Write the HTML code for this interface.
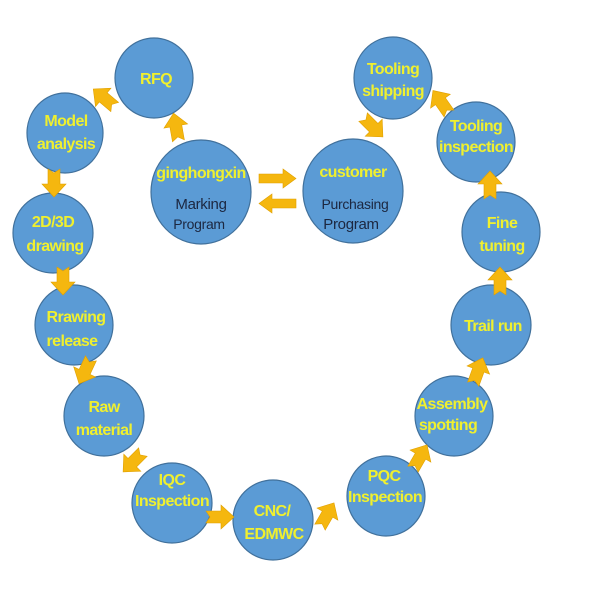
<!DOCTYPE html>
<html><head><meta charset="utf-8"><style>
html,body{margin:0;padding:0;background:#fff;}
svg{display:block;}
.t{font-family:"Liberation Sans",sans-serif;font-weight:bold;font-size:16px;letter-spacing:-0.6px;fill:#F0F02E;text-anchor:middle;}
.d{font-family:"Liberation Sans",sans-serif;font-size:14px;letter-spacing:-0.3px;fill:#1c2740;text-anchor:middle;}
</style></head><body>
<svg width="600" height="600" viewBox="0 0 600 600" xmlns="http://www.w3.org/2000/svg">
<defs>
<polygon id="ar" points="-14,-6 1,-6 1,-12 14,0 1,12 1,6 -14,6 -10,0" fill="#F5B70F" stroke="#E0A000" stroke-width="0.6"/>
</defs>
<g fill="#5B9BD5" stroke="#41719C" stroke-width="1.2">
<ellipse cx="154" cy="78" rx="39" ry="40"/>
<ellipse cx="65" cy="133" rx="38" ry="40"/>
<ellipse cx="53" cy="233" rx="40" ry="40"/>
<ellipse cx="74" cy="325" rx="39" ry="40"/>
<ellipse cx="104" cy="416" rx="40" ry="40"/>
<ellipse cx="172" cy="503" rx="40" ry="40"/>
<ellipse cx="273" cy="520" rx="40" ry="40"/>
<ellipse cx="386" cy="496" rx="39" ry="40"/>
<ellipse cx="454" cy="416" rx="39" ry="40"/>
<ellipse cx="491" cy="325" rx="40" ry="40"/>
<ellipse cx="501" cy="232" rx="39" ry="40"/>
<ellipse cx="476" cy="142" rx="39" ry="40"/>
<ellipse cx="393" cy="78" rx="39" ry="41"/>
<ellipse cx="201" cy="192" rx="50" ry="52"/>
<ellipse cx="353" cy="191" rx="50" ry="52"/>
</g>
<g>
<use href="#ar" transform="translate(176,127) rotate(-100)"/>
<use href="#ar" transform="translate(104,98) rotate(-140)"/>
<use href="#ar" transform="translate(54,183) rotate(90)"/>
<use href="#ar" transform="translate(63,281) rotate(90)"/>
<use href="#ar" transform="translate(85,371) rotate(115)"/>
<use href="#ar" transform="translate(133,462) rotate(135)"/>
<use href="#ar" transform="translate(220,517) rotate(0)"/>
<use href="#ar" transform="translate(327,515) rotate(-60)"/>
<use href="#ar" transform="translate(420,457) rotate(-60)"/>
<use href="#ar" transform="translate(478,371) rotate(-70)"/>
<use href="#ar" transform="translate(500,281) rotate(-90)"/>
<use href="#ar" transform="translate(490,185) rotate(-90)"/>
<use href="#ar" transform="translate(441,102) rotate(-125)"/>
<use href="#ar" transform="translate(373,127) rotate(45)"/>
<polygon points="259,174 283,174 283,169 296,178.5 283,188 283,183 259,183" fill="#F5B70F" stroke="#E0A000" stroke-width="0.6"/>
<polygon points="296,199 272,199 272,194 259,203.5 272,213 272,208 296,208" fill="#F5B70F" stroke="#E0A000" stroke-width="0.6"/>
</g>
<text class="t" x="156" y="84">RFQ</text>
<text class="t" x="66" y="126">Model</text>
<text class="t" x="66" y="149">analysis</text>
<text class="t" x="53" y="227">2D/3D</text>
<text class="t" x="55" y="251">drawing</text>
<text class="t" x="76" y="322">Rrawing</text>
<text class="t" x="72" y="346">release</text>
<text class="t" x="104" y="412">Raw</text>
<text class="t" x="104" y="435">material</text>
<text class="t" x="172" y="485">IQC</text>
<text class="t" x="172" y="506">Inspection</text>
<text class="t" x="272" y="516">CNC/</text>
<text class="t" x="274" y="539">EDMWC</text>
<text class="t" x="384" y="481">PQC</text>
<text class="t" x="385" y="502">Inspection</text>
<text class="t" x="452" y="409">Assembly</text>
<text class="t" x="448" y="430">spotting</text>
<text class="t" x="493" y="331">Trail run</text>
<text class="t" x="502" y="228">Fine</text>
<text class="t" x="502" y="251">tuning</text>
<text class="t" x="476" y="131">Tooling</text>
<text class="t" x="476" y="152">inspection</text>
<text class="t" x="393" y="74">Tooling</text>
<text class="t" x="393" y="96">shipping</text>
<text class="t" x="201" y="178">ginghongxin</text>
<text class="d" x="201" y="209" style="font-size:15px">Marking</text>
<text class="d" x="199" y="229">Program</text>
<text class="t" x="353" y="177">customer</text>
<text class="d" x="355" y="209">Purchasing</text>
<text class="d" x="351" y="229" style="font-size:15px">Program</text>
</svg>
</body></html>
